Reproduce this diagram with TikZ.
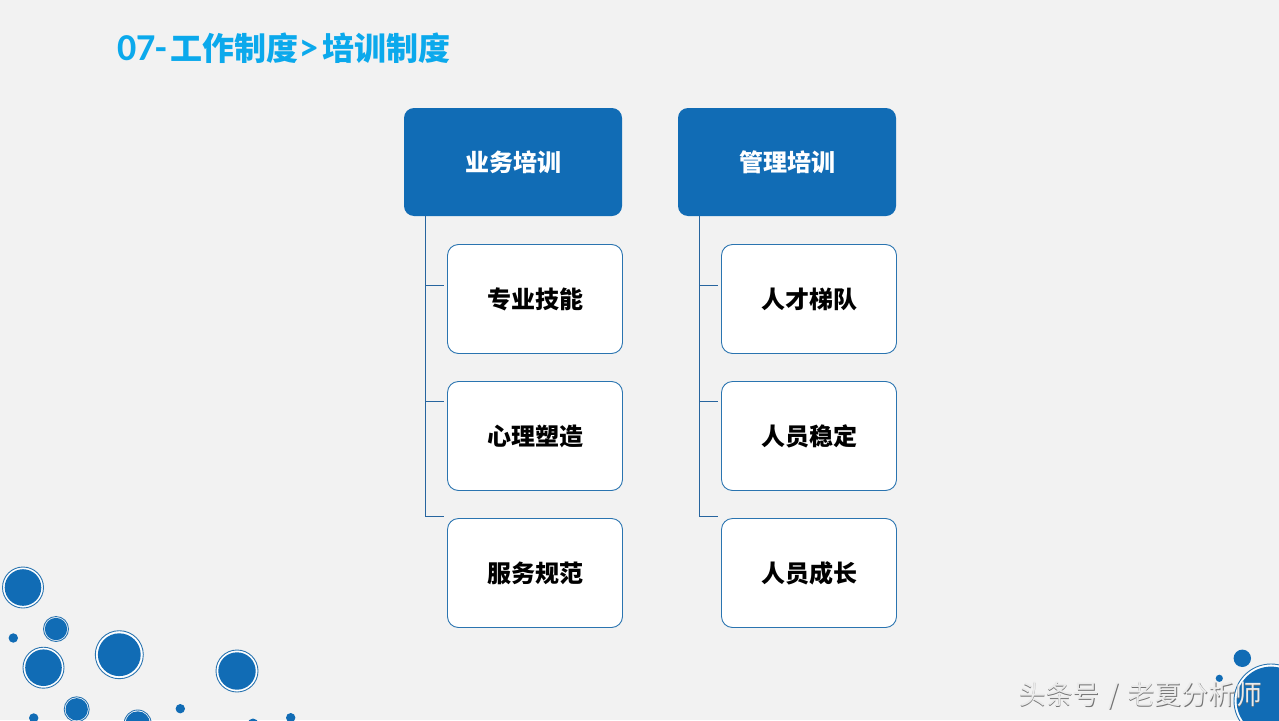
\documentclass[tikz,border=0pt]{standalone}
\usepackage{fontspec}
\setmainfont{Carlito}
\newfontfamily\cjk{Noto Sans CJK SC}
\definecolor{pagebg}{HTML}{F2F2F2}
\definecolor{mainblue}{HTML}{116CB5}
\definecolor{titleblue}{HTML}{0BA9EC}
\definecolor{linkblue}{HTML}{27659F}
\definecolor{edgeblue}{HTML}{2A74B0}
\tikzset{
  headbox/.style={draw=none,fill=mainblue,rounded corners=10pt,minimum width=218pt,minimum height=108pt,inner sep=0pt,text=white,font=\cjk\fontsize{24}{28}\selectfont\bfseries},
  itembox/.style={draw=edgeblue,line width=0.9pt,fill=white,rounded corners=11pt,minimum width=175pt,minimum height=109pt,inner sep=0pt,text=black,font=\cjk\fontsize{24}{28}\selectfont\bfseries},
  linkline/.style={draw=linkblue,line width=0.9pt},
  bubble/.style={circle,fill=mainblue,draw=none,inner sep=0pt},
  ringed/.style={circle,draw=edgeblue,line width=0.9pt,fill=white,inner sep=0pt},
  wmark/.style={inner sep=0pt,anchor=west,font=\cjk\fontsize{26.8}{30}\selectfont},
}
% name, position, outer radius, width of the pale gap
\newcommand{\ringbub}[4]{%
  \node[ringed,minimum size=#3*2pt] (#1-o) at (#2) {};
  \node[bubble,minimum size=#3*2pt-#4*2pt] (#1-i) at (#2) {};}
\newcommand{\dotbub}[3]{\node[bubble,minimum size=#3*2pt] (#1) at (#2) {};}
\newcommand{\wmtext}{\cjk 头条号\hspace{9pt}/\hspace{9pt}老夏分析师}
\begin{document}
\begin{tikzpicture}[x=1pt,y=-1pt]
\path[use as bounding box,fill=pagebg] (0,0) rectangle (1279,720);
\clip (0,0) rectangle (1279,720);

\node[inner sep=0pt,anchor=west,text=titleblue,font=\fontsize{38}{40}\selectfont\bfseries] (title) at (117,48)
  {07-\hspace{3pt}{\cjk\fontsize{32}{40}\selectfont\bfseries 工作制度}\hspace{1.5pt}>\hspace{3.5pt}{\cjk\fontsize{32}{40}\selectfont\bfseries 培训制度}};

% left column
\node[headbox] (h1) at (513,162) {业务培训};
\node[itembox] (a1) at (535,299) {专业技能};
\node[itembox] (a2) at (535,436) {心理塑造};
\node[itembox] (a3) at (535,573) {服务规范};
\coordinate (t1) at (425,216);
\coordinate (j11) at (425,285);
\coordinate (j12) at (425,401);
\coordinate (j13) at (425,516);
\coordinate (e11) at (444,285);
\coordinate (e12) at (444,401);
\coordinate (e13) at (444,516);
\draw[linkline] (t1) -- (j13) -- (e13);
\draw[linkline] (j11) -- (e11);
\draw[linkline] (j12) -- (e12);

% right column
\node[headbox] (h2) at (787,162) {管理培训};
\node[itembox] (b1) at (809,299) {人才梯队};
\node[itembox] (b2) at (809,436) {人员稳定};
\node[itembox] (b3) at (809,573) {人员成长};
\coordinate (t2) at (699,216);
\coordinate (j21) at (699,285);
\coordinate (j22) at (699,401);
\coordinate (j23) at (699,516);
\coordinate (e21) at (718,285);
\coordinate (e22) at (718,401);
\coordinate (e23) at (718,516);
\draw[linkline] (t2) -- (j23) -- (e23);
\draw[linkline] (j21) -- (e21);
\draw[linkline] (j22) -- (e22);

% bubbles, lower left
\ringbub{c1}{23,587.5}{20.5}{2.2}
\ringbub{c2}{56,629}{12.5}{1.3}
\ringbub{c3}{43.5,667.7}{20.5}{2.2}
\ringbub{c4}{119.3,654.7}{24}{2.6}
\ringbub{c5}{237,671}{21}{2.3}
\ringbub{c6}{76.7,709.3}{12.5}{1.3}
\ringbub{c7}{137.7,723.5}{13.5}{1.3}
\dotbub{d1}{13.3,638}{4.7}
\dotbub{d2}{33.7,718}{4.7}
\dotbub{d3}{180.3,708.7}{4.7}
\dotbub{d4}{290.7,717.7}{4.7}
\dotbub{d5}{253,724}{5.5}

% bubbles, lower right
\dotbub{d6}{1242.3,658.3}{8.7}
\dotbub{d7}{1219.3,678.3}{3.6}
\ringbub{c8}{1271,701}{37}{2.6}

% watermark
\node[wmark,text=black!55] (wm1) at (1019.6,696.6) {\wmtext};
\node[wmark,text=white!92!black] (wm2) at (1019,696) {\wmtext};
\end{tikzpicture}
\end{document}
